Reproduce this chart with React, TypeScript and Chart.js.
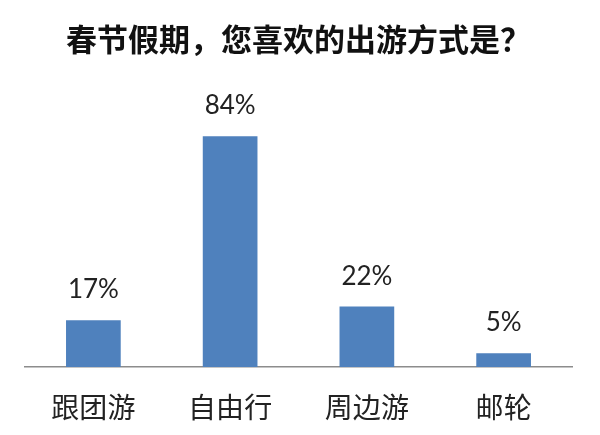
import React, { useEffect, useRef } from "react";
import { Chart, registerables } from "chart.js";

Chart.register(...registerables);

const categories = ["跟团游", "自由行", "周边游", "邮轮"];
const values = [17, 84, 22, 5];
const valueLabels = ["17%", "84%", "22%", "5%"];
const titleText = "春节假期，您喜欢的出游方式是？";

const barLabelPlugin = {
  id: "barLabels",
  afterDatasetsDraw(chart: any) {
    const ctx = chart.ctx;
    const meta = chart.getDatasetMeta(0);
    ctx.save();
    ctx.font = '26px Lato, "Liberation Sans", sans-serif';
    ctx.fillStyle = "#222222";
    ctx.textAlign = "center";
    ctx.textBaseline = "alphabetic";
    meta.data.forEach((bar: any, i: number) => {
      ctx.fillText(valueLabels[i], bar.x, bar.y - 22);
    });
    ctx.restore();
  },
};

export default function App() {
  const ref = useRef<HTMLCanvasElement | null>(null);
  useEffect(() => {
    if (!ref.current) return;
    const chart = new Chart(ref.current, {
      type: "bar",
      data: {
        labels: categories,
        datasets: [
          {
            data: values,
            backgroundColor: "#4F81BD",
            borderWidth: 0,
            categoryPercentage: 1,
            barPercentage: 0.4,
          },
        ],
      },
      options: {
        animation: false,
        responsive: false,
        maintainAspectRatio: false,
        layout: { padding: { left: 25, right: 28, top: 0, bottom: 12 } },
        plugins: {
          legend: { display: false },
          tooltip: { enabled: false },
          title: {
            display: true,
            text: titleText,
            color: "#111111",
            font: { family: '"Noto Sans CJK SC", sans-serif', size: 31, weight: "bold", lineHeight: 1.2 },
            padding: { top: 21, bottom: 34 },
          },
        },
        scales: {
          x: {
            grid: { display: false, drawTicks: false },
            border: { display: true, color: "#8c8c8c", width: 1.5 },
            ticks: {
              color: "#222222",
              padding: 24,
              font: { family: '"Noto Sans CJK SC", sans-serif', size: 28, lineHeight: 1.2 },
            },
            afterFit: (scale: any) => {
              scale.height = 56;
            },
          },
          y: {
            display: false,
            min: 0,
            max: 100,
          },
        },
      },
      plugins: [barLabelPlugin],
    });
    return () => chart.destroy();
  }, []);
  return (
    <div style={{ position: "fixed", left: 0, top: 0, width: 600, height: 435, background: "#ffffff" }}>
      <canvas ref={ref} width={600} height={435} style={{ width: 600, height: 435 }} />
    </div>
  );
}
